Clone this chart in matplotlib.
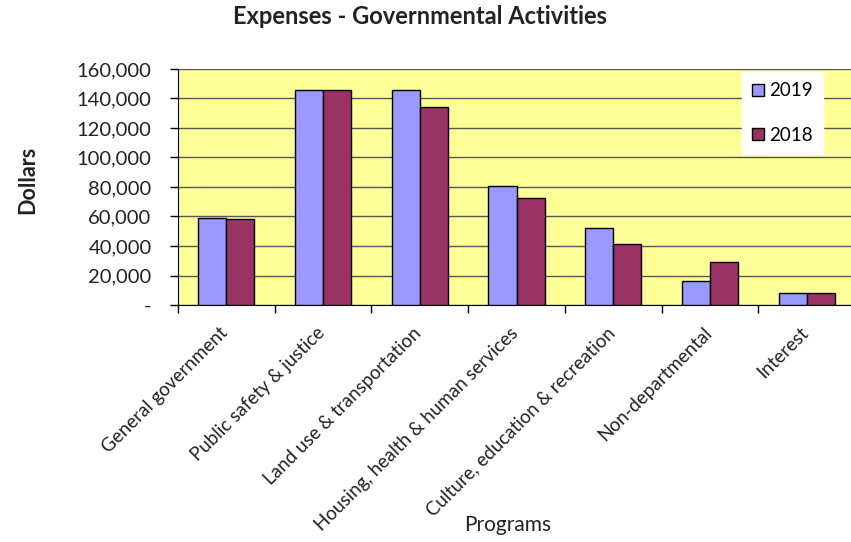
import numpy as np
import matplotlib.pyplot as plt
from matplotlib.transforms import ScaledTranslation

# expenses by program, in dollars
programs = [
    "General government",
    "Public safety & justice",
    "Land use & transportation",
    "Housing, health & human services",
    "Culture, education & recreation",
    "Non-departmental",
    "Interest",
]
expenses_2019 = [59000, 146000, 146000, 80500, 52000, 16000, 8000]
expenses_2018 = [58000, 146000, 134000, 72500, 41500, 29000, 8000]
y_ticks = [0, 20000, 40000, 60000, 80000, 100000, 120000, 140000, 160000]

COLOR_2019 = "#9999FF"
COLOR_2018 = "#993366"
PLOT_BG = "#FFFF99"

plt.rcParams['font.family'] = ['Lato', 'DejaVu Sans']

fig = plt.figure(figsize=(8.51, 5.42), dpi=100)
ax = fig.add_axes([178 / 851, 237 / 542, 677 / 851, 236 / 542])
ax.set_facecolor(PLOT_BG)

x = np.arange(len(programs))
w = 0.29
ax.bar(x - w / 2, expenses_2019, w, color=COLOR_2019, edgecolor="black", linewidth=1, label="2019", zorder=3)
ax.bar(x + w / 2, expenses_2018, w, color=COLOR_2018, edgecolor="black", linewidth=1, label="2018", zorder=3)

ax.set_xlim(-0.5, len(programs) - 0.5)
ax.set_ylim(0, 160000)

# y axis: comma labels, dash for zero
ax.set_yticks(y_ticks)
ax.set_yticklabels(["-" if v == 0 else f"{v:,}" for v in y_ticks], fontsize=14.5, color="#222222")
ax.yaxis.grid(True, color="#555555", linewidth=1.0, zorder=1)
ax.tick_params(axis="y", length=6, width=1, direction="out", pad=13)

# x axis: ticks between categories, labels at centers
ax.set_xticks(x)
ax.set_xticklabels(programs, rotation=45, ha="right", rotation_mode="anchor", fontsize=13.5, color="#222222")
ax.set_xticks(np.arange(-0.5, len(programs), 1.0), minor=True)
ax.tick_params(axis="x", which="major", length=0, pad=13)
ax.tick_params(axis="x", which="minor", length=6, width=1, direction="out")

# nudge the slanted labels so they end just under each category center
shift = ScaledTranslation(-7 / 100, -1 / 100, fig.dpi_scale_trans)
for lbl in ax.get_xticklabels():
    lbl.set_transform(lbl.get_transform() + shift)

for side in ("top", "right"):
    ax.spines[side].set_visible(False)
ax.spines["left"].set_color("black")
ax.spines["bottom"].set_color("black")

fig.text(420 / 851, 1 - 17 / 542, "Expenses - Governmental Activities",
         ha="center", va="center", fontsize=17, fontweight="bold", color="#222222")
fig.text(28 / 851, 1 - 180 / 542, "Dollars", rotation=90,
         ha="center", va="center", fontsize=15.5, fontweight="bold", color="#222222")
fig.text(508 / 851, 1 - 525 / 542, "Programs",
         ha="center", va="center", fontsize=15, color="#222222")

leg = ax.legend(loc="upper left", bbox_to_anchor=(0.833, 0.987), borderaxespad=0,
                fontsize=13.5, frameon=True, fancybox=False, framealpha=1,
                facecolor="white", edgecolor="white", handlelength=0.6,
                handleheight=0.6, handletextpad=0.3, labelspacing=1.45, borderpad=0.55)
leg.set_zorder(5)

fig.savefig("out.png", dpi=100)
